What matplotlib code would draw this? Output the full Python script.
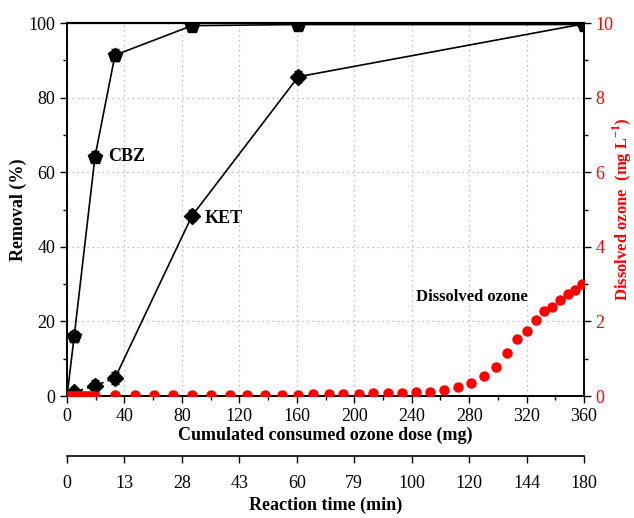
import matplotlib
matplotlib.use("Agg")
import matplotlib.pyplot as plt
from matplotlib.ticker import MultipleLocator, FixedLocator

plt.rcParams["font.family"] = ["Liberation Serif", "DejaVu Serif"]
plt.rcParams["mathtext.fontset"] = "custom"
plt.rcParams["mathtext.rm"] = "Liberation Serif"
plt.rcParams["mathtext.bf"] = "Liberation Serif:bold"

# ---- data ----
cbz_dose = [0, 5, 19.5, 33.4, 87, 161, 360]
cbz_rem = [0, 16.0, 64.2, 91.4, 99.3, 99.6, 99.6]
cbz_err = [0, 1.5, 1.5, 1.6, 1.2, 1.0, 1.0]

ket_dose = [0, 5, 19.5, 33.4, 87, 161, 360]
ket_rem = [0, 1.0, 2.8, 4.8, 48.3, 85.6, 99.8]
ket_err = [0, 1.2, 1.6, 1.6, 1.5, 1.5, 1.0]

o3_dose = [0, 1.5, 3, 4.5, 6, 7.5, 9, 10.5, 12, 13.5, 15, 16.5, 18, 19.5,
           33.6, 47.1, 60.3, 73.7, 87.2, 100.2, 113.2, 125.4, 137.7, 149.8,
           160.9, 171.5, 182.3, 192.5, 203.1, 213.4, 223.5, 233.5, 243.0,
           252.7, 262.3, 272.0, 281.2, 290.2, 298.9, 306.6, 313.5, 320.3,
           326.4, 332.3, 337.9, 343.4, 348.5, 353.6, 358.3]
o3_conc = [0, 0, 0, 0, 0, 0, 0, 0, 0, 0, 0, 0, 0, 0,
           0.02, 0.02, 0.02, 0.02, 0.02, 0.02, 0.02, 0.02, 0.03, 0.035,
           0.04, 0.045, 0.05, 0.05, 0.06, 0.07, 0.08, 0.09, 0.10,
           0.12, 0.17, 0.24, 0.35, 0.54, 0.79, 1.16, 1.52, 1.75,
           2.04, 2.28, 2.39, 2.58, 2.74, 2.83, 2.99]

dose_ticks = [0, 40, 80, 120, 160, 200, 240, 280, 320, 360]
time_labels = ["0", "13", "28", "43", "60", "79", "100", "120", "144", "180"]

fig = plt.figure(figsize=(6.34, 5.18), dpi=100)
ax = fig.add_axes([0.1057, 0.2355, 0.8155, 0.7200])
axr = ax.twinx()

# removal curves
ax.errorbar(cbz_dose, cbz_rem, yerr=cbz_err, color="black", lw=1.2,
            marker="p", ms=10, capsize=3, elinewidth=1, markevery=range(1, 7),
            errorevery=range(1, 7), zorder=4)
ax.plot(ket_dose[:4], ket_rem[:4], color="black", lw=1.2, ls=(0, (4, 2.5)), zorder=4)
ax.plot(ket_dose[3:], ket_rem[3:], color="black", lw=1.2, zorder=4)
ax.errorbar(ket_dose[1:], ket_rem[1:], yerr=ket_err[1:], color="black", ls="none",
            marker="D", ms=8.5, capsize=3, elinewidth=1, zorder=4)

# dissolved ozone
axr.plot(o3_dose, o3_conc, "o", color="#ff0000", ms=6.5, mec="#ff0000", zorder=3)

ax.set_xlim(0, 360)
ax.set_ylim(0, 100)
axr.set_ylim(0, 10)

ax.xaxis.set_major_locator(MultipleLocator(40))
ax.xaxis.set_minor_locator(MultipleLocator(20))
ax.yaxis.set_major_locator(MultipleLocator(20))
ax.yaxis.set_minor_locator(MultipleLocator(10))
axr.yaxis.set_major_locator(MultipleLocator(2))
axr.yaxis.set_minor_locator(MultipleLocator(1))

ax.grid(True, which="major", ls=(0, (1, 3)), color="#b0b0b0", lw=0.9)
ax.set_axisbelow(True)

for a in (ax, axr):
    a.tick_params(which="major", direction="out", length=5, width=1.0, labelsize=13)
    a.tick_params(which="minor", direction="out", length=3, width=1.0)
    for s in a.spines.values():
        s.set_linewidth(1.2)
ax.spines["top"].set_linewidth(1.6)
axr.tick_params(axis="y", which="both", colors="black", labelcolor="#ff0000", pad=3)

ax.set_xlabel("Cumulated consumed ozone dose (mg)", fontsize=13, fontweight="bold", labelpad=1)
ax.set_ylabel("Removal (%)", fontsize=13, fontweight="bold", labelpad=1)
axr.set_ylabel(r"Dissolved ozone  (mg L$^{\mathbf{-1}}$)", fontsize=12,
               fontweight="bold", color="#ff0000")
axr.yaxis.set_label_coords(1.052, 0.5)

ax.text(28.5, 64.1, "CBZ", fontsize=13, fontweight="bold", va="center")
ax.text(96, 47.7, "KET", fontsize=13, fontweight="bold", va="center")
ax.text(243, 26.5, "Dissolved ozone", fontsize=12, fontweight="bold", va="center")

# second x axis: reaction time
axt = ax.twiny()
axt.set_xlim(ax.get_xlim())
axt.xaxis.set_ticks_position("bottom")
axt.xaxis.set_label_position("bottom")
axt.spines["bottom"].set_position(("outward", 43))
for s in ("top", "left", "right"):
    axt.spines[s].set_visible(False)
axt.spines["bottom"].set_linewidth(1.2)
axt.xaxis.set_major_locator(FixedLocator(dose_ticks))
axt.set_xticklabels(time_labels)
axt.tick_params(axis="x", direction="out", length=5, width=1.0, labelsize=13, pad=9)
axt.set_xlabel("Reaction time (min)", fontsize=13, fontweight="bold", labelpad=3)

fig.savefig("out.png", dpi=100)
